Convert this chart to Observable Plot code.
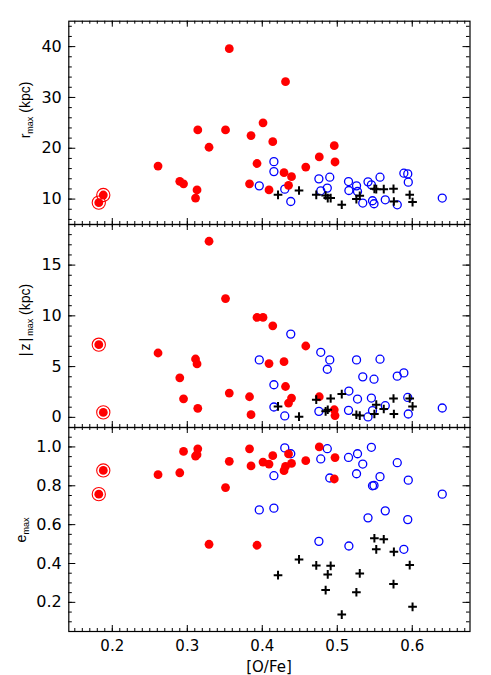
<!DOCTYPE html>
<html><head><meta charset="utf-8">
<script src="https://cdn.jsdelivr.net/npm/d3@7"></script>
<script src="https://cdn.jsdelivr.net/npm/@observablehq/plot@0.6"></script>
<style>body{margin:0;background:#fff;}</style>
</head><body><div id="chart"></div>
<script>
// ---- data ----
const xDomain = [0.142, 0.677];
const xTicks = [0.2, 0.3, 0.4, 0.5, 0.6];
const rTicks = [10, 20, 30, 40];
const zTicks = [0, 5, 10, 15];
const eTicks = [0.2, 0.4, 0.6, 0.8, 1.0];

// red filled circles
const redOFe = [0.182, 0.188, 0.261, 0.290, 0.295, 0.311, 0.313, 0.314, 0.329, 0.351, 0.356, 0.383, 0.385, 0.393, 0.401, 0.409, 0.414, 0.429, 0.431, 0.435, 0.439, 0.458, 0.476, 0.496, 0.497];
const redR   = [9.3, 10.8, 16.5, 13.5, 13.0, 10.2, 11.8, 23.6, 20.2, 23.6, 39.6, 13.0, 22.5, 17.0, 25.0, 11.8, 21.3, 15.2, 33.1, 12.7, 14.4, 16.3, 18.3, 20.5, 17.3];
const redZ   = [7.16, 0.49, 6.34, 3.89, 1.83, 5.75, 5.26, 0.89, 17.35, 11.7, 2.39, 2.03, 0.26, 9.84, 9.84, 5.3, 9.02, 5.49, 3.04, 1.41, 1.9, 7.03, 2.03, 0.75, 0.17];
const redE   = [0.757, 0.879, 0.857, 0.867, 0.977, 0.953, 0.96, 0.990, 0.499, 0.791, 0.926, 0.990, 0.902, 0.494, 0.922, 0.912, 0.955, 0.878, 0.900, 0.964, 0.915, 0.929, 1.0, 0.835, 0.945];
const ringedOFe = [0.182, 0.188];

// blue open circles
const blueOFe = [0.396, 0.4155, 0.4155, 0.430, 0.438, 0.4755, 0.478, 0.4867, 0.490, 0.515, 0.5155, 0.5257, 0.527, 0.534, 0.541, 0.5455, 0.547, 0.549, 0.557, 0.564, 0.580, 0.5888, 0.594, 0.5947, 0.640];
const blueR   = [12.6, 17.37, 15.41, 11.96, 9.53, 13.98, 11.63, 12.16, 14.31, 13.45, 11.69, 12.6, 11.49, 9.22, 13.39, 12.8, 9.67, 9.08, 14.31, 9.86, 8.88, 15.1, 14.96, 13.33, 10.2];
const blueZ   = [5.66, 3.21, 1.02, 0.14, 8.2, 0.59, 6.41, 4.74, 5.66, 0.69, 2.59, 5.66, 1.80, 3.99, 0.04, 1.90, 0.66, 3.76, 5.73, 1.15, 4.06, 4.38, 1.96, 0.33, 0.92];
const blueE   = [0.676, 0.852, 0.685, 0.995, 0.965, 0.514, 0.938, 0.991, 0.840, 0.946, 0.490, 0.862, 0.965, 0.912, 0.635, 0.998, 0.800, 0.802, 0.847, 0.671, 0.919, 0.473, 0.626, 0.829, 0.757];

// black plus signs
const blackOFe = [0.421, 0.449, 0.472, 0.4845, 0.4873, 0.4912, 0.506, 0.5255, 0.530, 0.5495, 0.552, 0.562, 0.575, 0.5755, 0.5966, 0.6004];
const blackR   = [10.84, 11.69, 10.84, 10.7, 10.2, 10.2, 8.88, 10.0, 10.65, 12.02, 11.96, 11.96, 12.02, 9.53, 10.84, 9.41];
const blackZ   = [1.08, 0.07, 1.74, 0.59, 0.75, 1.86, 2.29, 0.26, 0.17, 0.33, 1.25, 0.82, 1.86, 0.33, 1.86, 1.08];
const blackE   = [0.340, 0.421, 0.390, 0.263, 0.344, 0.388, 0.137, 0.252, 0.349, 0.530, 0.473, 0.525, 0.294, 0.460, 0.392, 0.177];

// ---- tables ----
const red = redOFe.map((o, i) => ({ofe: o, r: redR[i], z: redZ[i], e: redE[i]}));
const ringed = red.filter(d => ringedOFe.includes(d.ofe));
const blue = blueOFe.map((o, i) => ({ofe: o, r: blueR[i], z: blueZ[i], e: blueE[i]}));
const black = blackOFe.map((o, i) => ({ofe: o, r: blackR[i], z: blackZ[i], e: blackE[i]}));

// ---- layout ----
const W = 491, H = 675;
const mL = 68.3, mR = 21.5;
const frameW = W - mL - mR;
const FONT = "DejaVu Sans";
const TITLE_FONT = "Liberation Sans";
const xMinor = d3.range(15, 68).map(i => i / 100);

function panel({key, yDomain, yMajor, yMinor, yFormat, top, bottom, mt, mb, xAxis}) {
  const height = bottom - top;
  const fh = height - mt - mb;
  const marks = [
    Plot.tickY(yMinor, {insetRight: frameW - 3.5, stroke: "black"}),
    Plot.tickY(yMinor, {insetLeft: frameW - 3.5, stroke: "black"}),
    Plot.tickY(yMajor, {insetRight: frameW - 7, stroke: "black"}),
    Plot.tickY(yMajor, {insetLeft: frameW - 7, stroke: "black"}),
    Plot.tickX(xMinor, {insetBottom: fh - 3, stroke: "black"}),
    Plot.tickX(xMinor, {insetTop: fh - 3, stroke: "black"}),
    Plot.tickX(xTicks, {insetBottom: fh - 6, stroke: "black"}),
    Plot.tickX(xTicks, {insetTop: fh - 6, stroke: "black"}),
    Plot.axisY(yMajor, {tickSize: 0, tickPadding: 7, tickFormat: yFormat, fontSize: 16, label: null}),
    Plot.dot(blue, {x: "ofe", y: key, r: 4, stroke: "#0000ff", strokeWidth: 1.3, fill: "none"}),
    Plot.dot(ringed, {x: "ofe", y: key, r: 6.6, stroke: "#ff0000", strokeWidth: 1.1, fill: "none"}),
    Plot.dot(red, {x: "ofe", y: key, r: 4.4, fill: "#ff0000", stroke: null}),
    Plot.dot(black, {x: "ofe", y: key, symbol: "plus", r: 2.9, stroke: "black", strokeWidth: 2}),
    Plot.frame({stroke: "black", strokeWidth: 1.2})
  ];
  if (xAxis) marks.push(Plot.axisX(xTicks, {tickSize: 0, tickPadding: 8.5, fontSize: 15, label: null, tickFormat: d3.format(".1f")}));
  const p = Plot.plot({
    width: W, height,
    marginLeft: mL, marginRight: mR, marginTop: mt, marginBottom: mb,
    x: {domain: xDomain, axis: xAxis ? undefined : null},
    y: {domain: yDomain},
    style: {fontFamily: FONT, background: "transparent", overflow: "visible"},
    marks
  });
  p.setAttribute("x", 0);
  p.setAttribute("y", top);
  p.style.width = W + "px";
  p.style.height = height + "px";
  p.style.maxWidth = "none";
  p.style.overflow = "visible";
  return p;
}

const outer = d3.create("svg")
  .attr("width", W).attr("height", H)
  .attr("viewBox", `0 0 ${W} ${H}`)
  .style("display", "block").style("background", "#fff")
  .style("font-family", FONT);

outer.node().appendChild(panel({key: "r", yDomain: [5, 45], yMajor: rTicks, yMinor: d3.range(6, 45, 2), yFormat: d3.format("d"), top: 0, bottom: 224, mt: 20.7, mb: 0}));
outer.node().appendChild(panel({key: "z", yDomain: [-1, 19], yMajor: zTicks, yMinor: d3.range(0, 19, 1), yFormat: d3.format("d"), top: 224, bottom: 427, mt: 0, mb: 0}));
outer.node().appendChild(panel({key: "e", yDomain: [0.05, 1.1], yMajor: eTicks, yMinor: d3.range(2, 22).map(i => i * 0.05), yFormat: d3.format(".1f"), top: 427, bottom: 675, mt: 0, mb: 44, xAxis: true}));

// axis titles (with subscripts)
function yTitle(x, y, main, sub, rest, spacing) {
  const t = outer.append("text")
    .attr("transform", `translate(${x},${y}) rotate(-90)`)
    .attr("text-anchor", "middle")
    .attr("font-family", TITLE_FONT)
    .attr("font-size", 14).attr("fill", "black");
  const m = t.append("tspan").text(main);
  if (spacing) m.attr("letter-spacing", spacing);
  t.append("tspan").attr("font-size", 9).attr("dy", 3).text(sub);
  if (rest) t.append("tspan").attr("dy", -3).text(rest);
}
yTitle(30, 110, "r", "max", " (kpc)");
yTitle(30, 320, "|z|", "max", " (kpc)", 2);
yTitle(26, 530, "e", "max", null);

outer.append("text")
  .attr("x", 269).attr("y", 671.5)
  .attr("text-anchor", "middle")
  .attr("font-size", 15).attr("fill", "black")
  .text("[O/Fe]");

document.getElementById("chart").appendChild(outer.node());
</script>
</body></html>
